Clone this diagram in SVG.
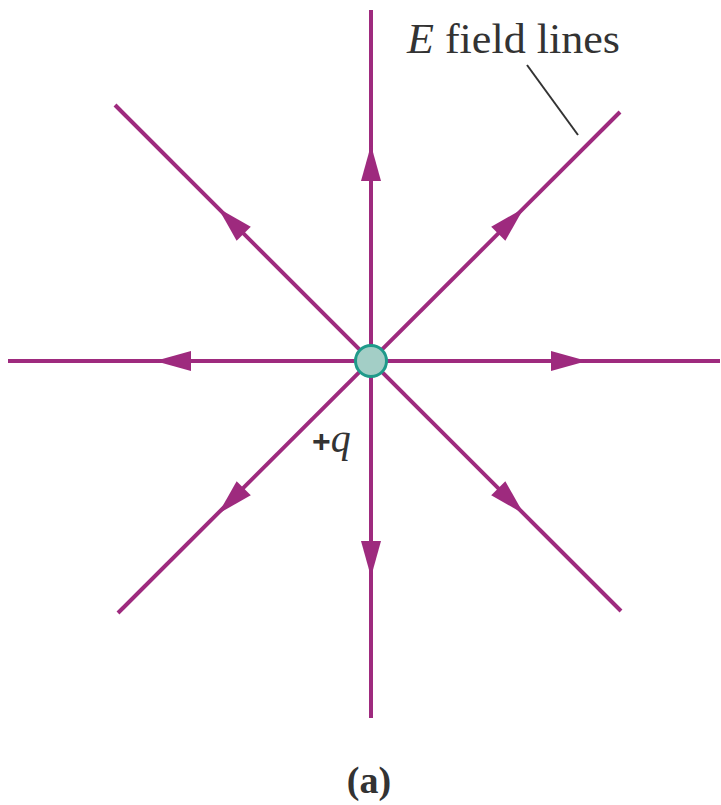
<svg xmlns="http://www.w3.org/2000/svg" width="721" height="805" viewBox="0 0 721 805">
<style>
.fl{stroke:#9e2a7e;stroke-width:4;fill:none;stroke-linecap:butt}
.ah{fill:#9e2a7e}
.lead{stroke:#333;stroke-width:2;fill:none}
.lbl{font-family:"Liberation Serif",serif;fill:#333}
</style>
<defs>
<path id="arrow" class="ah" d="M0,-216 L10,-180 L-10,-180 Z"/>
</defs>
<rect width="721" height="805" fill="#fff"/>
<g id="connectors">
<line class="fl" x1="371" y1="10" x2="371" y2="718"/>
<line class="fl" x1="8" y1="361" x2="720" y2="361"/>
<line class="fl" x1="115" y1="105" x2="621" y2="611"/>
<line class="fl" x1="620" y1="112" x2="118" y2="613"/>
<g transform="translate(371,361)">
<use href="#arrow"/>
<use href="#arrow" transform="rotate(45)"/>
<use href="#arrow" transform="rotate(90)"/>
<use href="#arrow" transform="rotate(135)"/>
<use href="#arrow" transform="rotate(180)"/>
<use href="#arrow" transform="rotate(225)"/>
<use href="#arrow" transform="rotate(270)"/>
<use href="#arrow" transform="rotate(315)"/>
</g>
<line class="lead" x1="527" y1="65" x2="578" y2="135"/>
</g>
<g id="charge">
<circle cx="371" cy="361" r="15.5" fill="#a3cec6" stroke="#1f9a8a" stroke-width="3"/>
<text x="312" y="452" font-family="Liberation Sans,sans-serif" font-weight="bold" font-size="32" fill="#333">+<tspan font-family="Liberation Serif,serif" font-style="italic" font-weight="normal" font-size="40">q</tspan></text>
</g>
<g id="label-field">
<text class="lbl" x="407" y="53" font-size="42" textLength="213" lengthAdjust="spacingAndGlyphs"><tspan font-style="italic">E</tspan> field lines</text>
</g>
<g id="caption">
<text class="lbl" x="369" y="793" font-size="38" font-weight="bold" text-anchor="middle">(a)</text>
</g>
</svg>
